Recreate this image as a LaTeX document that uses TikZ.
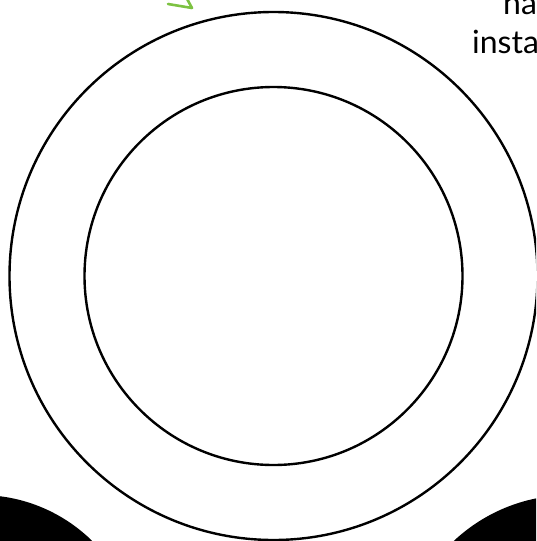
\documentclass[tikz,border=0pt]{standalone}
\usepackage{fontspec}
\setmainfont{Lato}
\definecolor{arrowgreen}{RGB}{125,194,66}
\begin{document}
\begin{tikzpicture}[x=1pt,y=-1pt,
  ring/.style={draw=black,line width=2.4pt},
  blob/.style={fill=black},
  label/.style={font=\fontsize{32}{38}\selectfont,inner sep=0pt,anchor=base west},
  greenline/.style={draw=arrowgreen,line width=2.6pt,line cap=round,line join=round}]
\useasboundingbox (0,0) rectangle (536,541);
\clip (0,0) rectangle (536,541);
\fill[white] (0,0) rectangle (536,541);
\coordinate (c) at (273.5,276);
\draw[ring] (c) circle[radius=264];
\draw[ring] (c) circle[radius=189];
\fill[blob] (-20,655) circle[radius=160];
\fill[blob] (570,665) circle[radius=170];
\node[label] (t1) at (503,14) {na};
\node[label] (t2) at (472,53) {insta};
\coordinate (g1) at (168,4);
\coordinate (g2) at (192,8);
\coordinate (g3) at (186,-3);
\draw[greenline] (g1) -- (g2) -- (g3);
\end{tikzpicture}
\end{document}
